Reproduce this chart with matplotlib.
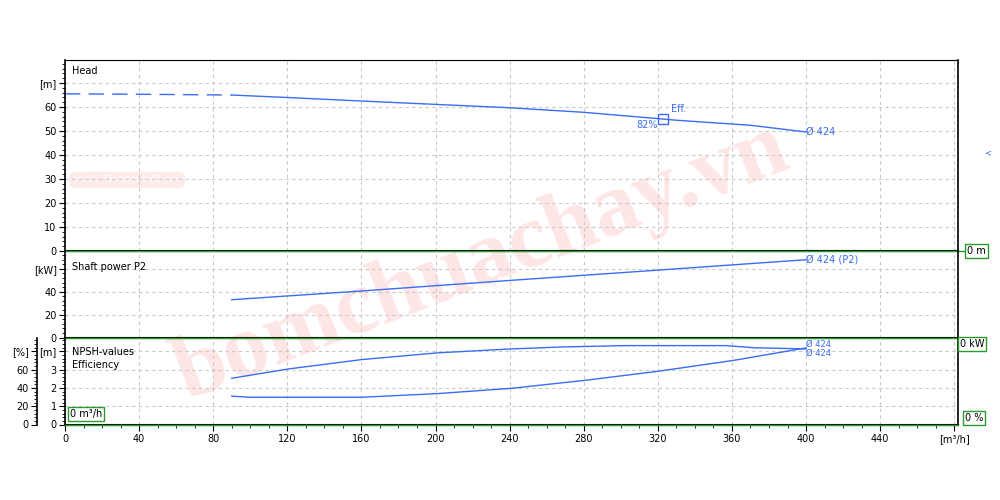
import matplotlib
matplotlib.use("Agg")
import matplotlib.pyplot as plt
from matplotlib.ticker import MultipleLocator, FixedLocator

# --- data ---
q_head_dash = [0, 45, 90]
head_dash = [65.5, 65.3, 65.0]
q_head = [90, 122, 160, 200, 240, 280, 315, 330, 370, 400]
head = [65.0, 63.9, 62.5, 61.1, 59.7, 57.8, 55.5, 54.5, 52.4, 49.6]
q_duty, h_duty = 323, 54.9

q_power = [90, 160, 240, 320, 400]
power = [33.0, 40.6, 49.8, 58.8, 67.9]

q_eff = [90, 121, 160, 201, 241, 269, 302, 357, 372, 400]
eff = [50.6, 60.9, 71.0, 78.4, 82.7, 84.9, 86.3, 86.3, 84.0, 82.7]

q_npsh = [90, 100, 160, 201, 241, 281, 320, 361, 400]
npsh = [1.55, 1.49, 1.49, 1.69, 1.98, 2.42, 2.91, 3.51, 4.19]

x_ticks = [0, 40, 80, 120, 160, 200, 240, 280, 320, 360, 400, 440, 480]
x_labels = [str(v) for v in x_ticks[:-1]] + ["[m³/h]"]

BLUE = "#3a6cf4"
GREEN = "#2a9a2a"
GRID = "#c8c8c8"
FS = 7

plt.rcParams["font.family"] = ["DejaVu Sans"]
plt.rcParams["font.size"] = FS

fig = plt.figure(figsize=(10, 5), dpi=100)
L, W = 0.065, 0.893
ax1 = fig.add_axes([L, 0.498, W, 0.382])
ax2 = fig.add_axes([L, 0.325, W, 0.173])
ax3 = fig.add_axes([L, 0.151, W, 0.174])

for ax in (ax1, ax2, ax3):
    ax.set_facecolor("none")
    ax.set_xlim(0, 482)
    ax.xaxis.set_major_locator(FixedLocator(x_ticks))
    ax.xaxis.set_minor_locator(MultipleLocator(10))
    ax.grid(True, which="major", color=GRID, linestyle=(0, (3, 3)), linewidth=0.8)
    ax.spines["left"].set_linewidth(1.2)
    ax.spines["right"].set_linewidth(1.2)
    ax.spines["bottom"].set_linewidth(1.5)
    ax.tick_params(axis="y", which="major", length=4, width=0.8, labelsize=FS, pad=2)
    ax.tick_params(axis="y", which="minor", length=2, width=0.6)
    ax.set_axisbelow(True)

# green zero lines running out to the value boxes
ax1.plot([0, 486], [0, 0], color=GREEN, lw=1.0, clip_on=False, zorder=5)
ax2.plot([0, 482], [0, 0], color=GREEN, lw=1.0, clip_on=False, zorder=5)
ax3.plot([0, 482], [0, 0], color=GREEN, lw=1.0, clip_on=False, zorder=5)

for ax in (ax1, ax2):
    ax.tick_params(axis="x", which="both", length=0, labelbottom=False)
ax2.spines["top"].set_visible(False)
ax3.spines["top"].set_visible(False)
ax3.set_xticklabels(x_labels)
ax3.tick_params(axis="x", which="major", length=4, width=0.8, labelsize=FS, pad=3)
ax3.tick_params(axis="x", which="minor", length=2, width=0.6)

# head panel
ax1.set_ylim(0, 79.6)
ax1.set_yticks(range(0, 80, 10))
ax1.set_yticklabels([str(v) for v in range(0, 70, 10)] + ["[m]"])
ax1.yaxis.set_minor_locator(MultipleLocator(2))
ax1.plot(q_head_dash, head_dash, color=BLUE, lw=1, dashes=(11, 6))
ax1.plot(q_head, head, color=BLUE, lw=1)
ax1.plot(q_duty, h_duty, marker="s", ms=7, mfc="none", mec=BLUE, mew=1, zorder=6)
ax1.text(q_duty + 4, h_duty + 2.2, "Eff.", color=BLUE, fontsize=FS, ha="left", va="bottom")
ax1.text(q_duty - 3, h_duty - 2.5, "82%", color=BLUE, fontsize=FS, ha="right", va="center")
ax1.text(400, head[-1], "Ø 424", color=BLUE, fontsize=FS, ha="left", va="center")
ax1.text(4, 75, "Head", fontsize=FS, va="center")

# shaft power panel
ax2.set_ylim(0, 75.5)
ax2.set_yticks([0, 20, 40, 60])
ax2.set_yticklabels(["0", "20", "40", "[kW]"])
ax2.yaxis.set_minor_locator(MultipleLocator(4))
ax2.plot(q_power, power, color=BLUE, lw=1)
ax2.text(400, power[-1], "Ø 424 (P2)", color=BLUE, fontsize=FS, ha="left", va="center")
ax2.text(4, 61.5, "Shaft power P2", fontsize=FS, va="center")

# NPSH / efficiency panel
ax3.set_ylim(0, 4.76)
ax3.set_yticks([0, 1, 2, 3, 4])
ax3.set_yticklabels(["0", "1", "2", "3", "[m]"])
ax3.yaxis.set_minor_locator(MultipleLocator(0.2))
ax3.plot(q_npsh, npsh, color=BLUE, lw=1)
ax3.text(400, npsh[-1] + 0.2, "Ø 424", color=BLUE, fontsize=6, ha="left", va="center")
ax3.text(4, 3.95, "NPSH-values", fontsize=FS, va="center")
ax3.text(4, 3.25, "Efficiency", fontsize=FS, va="center")

ax3b = ax3.twinx()
ax3b.set_ylim(0, 95.2)
ax3b.spines["left"].set_visible(True)
ax3b.spines["left"].set_position(("axes", -0.031))
ax3b.spines["left"].set_linewidth(1.2)
for s in ("right", "top", "bottom"):
    ax3b.spines[s].set_visible(False)
ax3b.yaxis.set_ticks_position("left")
ax3b.yaxis.set_label_position("left")
ax3b.set_yticks([0, 20, 40, 60, 80])
ax3b.set_yticklabels(["0", "20", "40", "60", "[%]"])
ax3b.yaxis.set_minor_locator(MultipleLocator(4))
ax3b.tick_params(axis="y", which="major", length=4, width=0.8, labelsize=FS, pad=2)
ax3b.tick_params(axis="y", which="minor", length=2, width=0.6)
ax3b.plot(q_eff, eff, color=BLUE, lw=1)
ax3b.text(400, eff[-1] - 5.2, "Ø 424", color=BLUE, fontsize=6, ha="left", va="center")

# value boxes on the right / bottom-left
box = dict(boxstyle="square,pad=0.2", fc="white", ec=GREEN, lw=1)
fig.text(0.967, 1 - 251 / 500, "0 m", fontsize=FS, va="center", ha="left", bbox=box)
fig.text(0.960, 1 - 344 / 500, "0 kW", fontsize=FS, va="center", ha="left", bbox=box)
fig.text(0.965, 1 - 418 / 500, "0 %", fontsize=FS, va="center", ha="left", bbox=box)
fig.text(0.070, 1 - 414 / 500, "0 m³/h", fontsize=FS, va="center", ha="left", bbox=box)
fig.text(0.988, 1 - 153 / 500, "<", color=BLUE, fontsize=6, va="center", ha="center")

# watermark (logo pill + site name)
fig.text(0.127, 1 - 180 / 500, "PCCC THANH DAT JSC", fontsize=6.5, weight="bold",
         color="#fff6f6", ha="center", va="center", zorder=-1,
         bbox=dict(boxstyle="round,pad=0.4,rounding_size=0.7", fc="#fdeaea", ec="none"))
fig.text(0.482, 0.475, "bomchuachay.vn", family="Liberation Serif", weight="bold",
         fontsize=65, color="#ff3b3b", alpha=0.13, rotation=21,
         ha="center", va="center", zorder=-1)

fig.savefig("out.png", dpi=100)
